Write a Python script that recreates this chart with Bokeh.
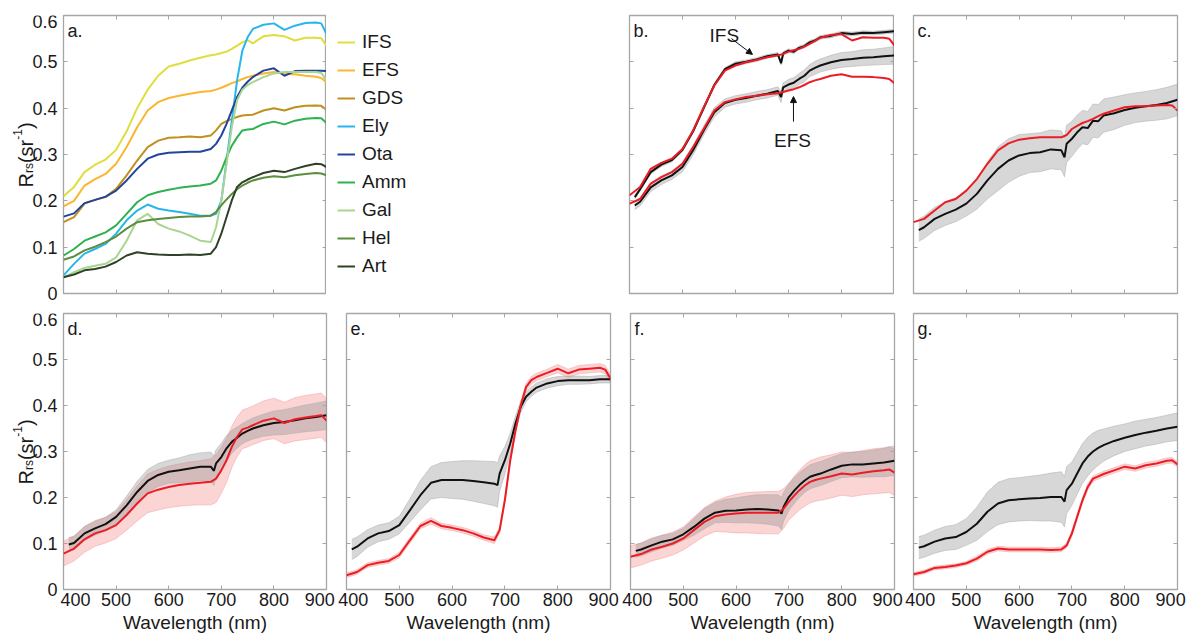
import numpy as np
from bokeh.plotting import figure
from bokeh.models import (Range1d, LinearAxis, FixedTicker, Label, Legend,
                          LegendItem, Arrow, NormalHead)
from bokeh.core.properties import value
from bokeh.layouts import column, row
from bokeh.embed import file_html
from bokeh.resources import INLINE

# ---------------- data ----------------
WL = [400, 420, 440, 460, 480, 500, 520, 540, 560, 580, 600, 620, 640, 660, 680,
      690, 700, 710, 720, 730, 740, 750, 760, 780, 800, 820, 840, 860, 880, 890, 900]
WLB = [410, 420, 440, 460, 480, 500, 520, 540, 560, 580, 600, 620, 640, 660, 680,
       686, 690, 700, 710, 720, 730, 740, 750, 760, 780, 800, 820, 840, 860, 880, 900]

A_NAMES = ["IFS", "EFS", "GDS", "Ely", "Ota", "Amm", "Gal", "Hel", "Art"]
A_COLORS = ["#dede3c", "#fbb630", "#c0901f", "#27b6ec", "#24449c", "#2db24f",
            "#a9d592", "#5b8e3e", "#2f4227"]
a_ifs = [.21, .23, .262, .278, .289, .31, .35, .40, .44, .47, .49, .496, .503, .509, .514,
         .516, .519, .522, .528, .535, .542, .547, .54, .555, .558, .555, .546, .552, .552, .551, .535]
a_efs = [.188, .20, .233, .247, .258, .28, .316, .359, .395, .413, .422, .427, .431, .435, .437,
         .44, .444, .449, .454, .458, .463, .467, .47, .475, .478, .474, .473, .47, .468, .465, .456]
a_gds = [.154, .165, .194, .202, .208, .226, .255, .287, .316, .33, .336, .337, .339, .337, .341,
         .352, .366, .372, .377, .381, .384, .385, .386, .395, .40, .395, .402, .405, .406, .405, .396]
a_ely = [.039, .064, .086, .096, .107, .129, .158, .179, .192, .183, .179, .176, .172, .168, .168,
         .172, .20, .287, .373, .46, .524, .553, .571, .58, .583, .569, .578, .584, .585, .583, .56]
a_ota = [.166, .173, .195, .202, .209, .222, .244, .269, .291, .30, .304, .305, .306, .306, .312,
         .323, .341, .366, .395, .424, .444, .457, .467, .481, .486, .47, .48, .481, .481, .481, .48]
a_amm = [.082, .096, .114, .123, .132, .147, .172, .197, .212, .219, .224, .228, .231, .233, .237,
         .244, .265, .294, .319, .337, .352, .354, .355, .366, .371, .365, .373, .377, .379, .378, .368]
a_gal = [.035, .046, .055, .06, .064, .078, .114, .158, .172, .15, .14, .134, .125, .114, .111,
         .143, .20, .28, .359, .417, .44, .45, .456, .467, .475, .478, .478, .478, .478, .476, .46]
a_hel = [.073, .08, .093, .101, .111, .123, .14, .154, .158, .161, .163, .165, .166, .166, .168,
         .176, .19, .203, .215, .225, .233, .239, .244, .25, .253, .251, .255, .258, .26, .259, .255]
a_art = [.035, .041, .05, .053, .058, .068, .082, .089, .086, .084, .083, .083, .084, .083, .086,
         .10, .129, .165, .201, .23, .24, .246, .251, .26, .265, .262, .269, .275, .28, .279, .273]

# panel b
b_ifs_red = [.212, .23, .269, .282, .291, .312, .352, .402, .449, .481, .492, .499, .504, .51, .514,
             .517, .522, .525, .528, .533, .539, .545, .552, .558, .56, .546, .553, .552, .552, .55, .535]
b_efs_red = [.194, .204, .237, .251, .262, .28, .316, .355, .395, .413, .419, .424, .427, .43, .432,
             .435, .438, .441, .445, .45, .456, .46, .463, .47, .473, .468, .468, .467, .465, .463, .454]
b_ifs_blk = [.208, .225, .262, .278, .288, .31, .35, .40, .45, .484, .496, .50, .505, .512, .516,
             .497, .518, .524, .522, .53, .534, .542, .546, .553, .556, .562, .56, .563, .562, .564, .566]
b_ifs_sd = [.004, .004, .004, .004, .004, .004, .004, .004, .004, .004, .004, .004, .004, .004, .004,
            .004, .004, .004, .004, .004, .004, .004, .004, .004, .004, .004, .004, .004, .004, .004, .004]
b_efs_blk = [.19, .198, .229, .244, .255, .273, .309, .352, .391, .411, .418, .422, .427, .431, .437,
             .424, .445, .451, .455, .463, .47, .481, .487, .492, .499, .504, .506, .509, .51, .512, .514]
b_efs_sd = [.009, .009, .009, .009, .009, .01, .01, .01, .01, .009, .009, .009, .009, .009, .009,
            .012, .01, .011, .011, .012, .013, .013, .014, .014, .015, .016, .016, .017, .017, .018, .019]

# panel c
c_red = [.154, .161, .179, .197, .204, .222, .247, .28, .309, .324, .332, .335, .337, .337, .337,
         .342, .355, .362, .368, .372, .377, .383, .388, .395, .402, .404, .404, .406, .407, .406, .395]
c_blk = [.137, .143, .161, .172, .181, .194, .215, .244, .269, .287, .298, .303, .305, .311, .309,
         .294, .323, .334, .348, .359, .357, .373, .372, .384, .389, .396, .401, .404, .407, .411, .418]
c_sd = [.024, .024, .025, .025, .026, .027, .033, .04, .047, .047, .045, .042, .042, .042, .042,
        .042, .04, .038, .037, .036, .036, .036, .036, .036, .035, .033, .032, .032, .033, .034, .034]

# panel d
d_red = [.078, .089, .109, .122, .129, .14, .162, .187, .209, .217, .223, .227, .23, .232, .234,
         .241, .259, .281, .31, .332, .348, .352, .357, .367, .372, .362, .37, .374, .377, .379, .367]
d_red_sd = [.027, .027, .028, .028, .028, .029, .033, .038, .042, .044, .045, .046, .047, .048, .05,
            .052, .05, .048, .045, .043, .042, .042, .042, .043, .044, .045, .047, .048, .048, .048, .048]
d_blk = [.098, .101, .122, .133, .142, .158, .183, .212, .236, .249, .256, .259, .263, .267, .267,
         .258, .274, .288, .307, .321, .33, .339, .345, .35, .357, .362, .364, .368, .372, .375, .379]
d_blk_sd = [.015, .015, .015, .015, .015, .015, .02, .023, .025, .025, .025, .027, .03, .03, .032,
            .032, .03, .03, .028, .025, .023, .022, .022, .023, .024, .026, .027, .028, .029, .03, .031]

# panel e
e_red = [.031, .038, .053, .058, .062, .075, .107, .138, .149, .138, .134, .129, .122, .113, .107,
         .129, .195, .28, .345, .40, .44, .455, .462, .471, .48, .47, .478, .48, .482, .478, .459]
e_red_sd = [.005, .005, .005, .005, .005, .006, .006, .006, .007, .006, .006, .006, .006, .006, .007,
            .007, .007, .007, .007, .008, .008, .008, .008, .008, .009, .009, .009, .009, .009, .009, .009]
e_blk = [.087, .093, .111, .122, .127, .14, .172, .205, .232, .238, .238, .238, .236, .233, .23,
         .227, .252, .281, .317, .361, .397, .419, .43, .439, .448, .453, .455, .455, .455, .457, .457]
e_blk_sd = [.022, .021, .019, .018, .018, .019, .025, .032, .035, .038, .04, .042, .044, .046, .048,
            .048, .038, .03, .022, .016, .013, .011, .01, .01, .01, .01, .009, .009, .008, .008, .008]

# panel f
f_red = [.071, .077, .087, .093, .10, .111, .129, .147, .159, .163, .165, .167, .167, .167, .167,
         .176, .191, .204, .216, .226, .234, .238, .241, .246, .252, .25, .254, .257, .259, .261, .254]
f_red_sd = [.024, .024, .025, .025, .025, .025, .028, .031, .033, .038, .042, .044, .045, .046, .046,
            .043, .04, .042, .043, .045, .046, .046, .047, .047, .047, .048, .048, .049, .049, .05, .05]
f_blk = [.084, .087, .096, .104, .109, .12, .136, .154, .167, .171, .172, .174, .175, .174, .172,
         .165, .18, .201, .215, .227, .237, .245, .249, .252, .261, .269, .272, .272, .274, .276, .28]
f_blk_sd = [.014, .014, .014, .014, .013, .013, .018, .022, .022, .025, .027, .029, .031, .032, .034,
            .035, .031, .029, .028, .027, .026, .026, .026, .026, .026, .026, .027, .028, .029, .031, .032]

# panel g
g_red = [.033, .038, .047, .049, .052, .057, .067, .082, .089, .087, .087, .087, .087, .086, .087,
         .096, .122, .158, .194, .223, .241, .246, .251, .259, .267, .263, .27, .274, .28, .281, .272]
g_red_sd = [.004, .004, .004, .004, .004, .004, .005, .005, .005, .005, .005, .005, .005, .005, .005,
            .005, .006, .006, .006, .006, .006, .006, .006, .006, .006, .006, .006, .006, .006, .006, .006]
g_blk = [.091, .094, .104, .111, .114, .125, .143, .169, .187, .194, .196, .198, .199, .201, .201,
         .191, .216, .23, .252, .274, .289, .30, .308, .314, .323, .33, .336, .341, .345, .35, .354]
g_blk_sd = [.024, .024, .025, .026, .027, .029, .036, .043, .046, .047, .047, .048, .05, .052, .055,
            .055, .051, .047, .045, .043, .042, .04, .038, .035, .032, .03, .03, .029, .029, .029, .03]

X_TICKS = [400, 500, 600, 700, 800, 900]
X_TICK_LABELS = ["400", "500", "600", "700", "800", "900"]
Y_TICKS = [0, 0.1, 0.2, 0.3, 0.4, 0.5, 0.6]
Y_TICK_LABELS = ["0", "0.1", "0.2", "0.3", "0.4", "0.5", "0.6"]
# label anchor positions (edge labels nudged inward, as in the original figure)
X_LABEL_POS = [413, 500, 600, 700, 800, 887]
Y_LABEL_POS = [0, 0.1, 0.2, 0.3, 0.4, 0.5, 0.587]

# ---------------- style ----------------
FONT = "Liberation Sans"
TXT = "#1a1a1a"
FRAME = "#a6a6a6"
RED = "#ec1c24"
BLK = "#111111"
GRAY_FILL, GRAY_A, GRAY_EDGE = "#8c8c8c", 0.35, "#a8a8a8"
PINK_FILL, PINK_A, PINK_EDGE = "#ee3a3a", 0.22, "#f29a9a"


def tick_axis(ticks):
    ax = LinearAxis(ticker=FixedTicker(ticks=ticks))
    ax.axis_line_color = None
    ax.major_tick_in = 4
    ax.major_tick_out = 0
    ax.major_tick_line_color = FRAME
    ax.minor_tick_line_color = None
    ax.major_label_text_color = None
    ax.major_label_text_font_size = "1px"
    ax.major_label_standoff = 0
    return ax


def label_axis(pos, labels, standoff):
    ax = LinearAxis(ticker=FixedTicker(ticks=pos))
    ax.major_label_overrides = {p_: s for p_, s in zip(pos, labels)}
    ax.axis_line_color = None
    ax.major_tick_line_color = None
    ax.minor_tick_line_color = None
    ax.major_tick_in = 0
    ax.major_tick_out = 0
    ax.major_label_standoff = standoff
    ax.major_label_text_font = FONT
    ax.major_label_text_font_size = "18px"
    ax.major_label_text_color = TXT
    return ax


def make_fig(w, h, bl, br, bt, bb, xlab=False):
    p = figure(width=w, height=h, x_range=Range1d(400, 900), y_range=Range1d(0, 0.6),
               output_backend="svg", toolbar_location=None,
               x_axis_location=None, y_axis_location=None,
               min_border_left=bl, min_border_right=br,
               min_border_top=bt, min_border_bottom=bb)
    p.grid.visible = False
    p.outline_line_color = FRAME
    p.outline_line_width = 1.3
    p.background_fill_color = "white"
    p.border_fill_color = "white"
    p.add_layout(tick_axis(X_TICKS), "below")
    p.add_layout(tick_axis(X_TICKS), "above")
    p.add_layout(tick_axis(Y_TICKS), "left")
    p.add_layout(tick_axis(Y_TICKS), "right")
    if xlab:
        ax = label_axis(X_LABEL_POS, X_TICK_LABELS, 3)
        ax.axis_label = "Wavelength (nm)"
        ax.axis_label_text_font = FONT
        ax.axis_label_text_font_size = "19px"
        ax.axis_label_text_font_style = "normal"
        ax.axis_label_text_color = TXT
        ax.axis_label_standoff = 3
        p.add_layout(ax, "below")
    return p


def lab(p, x, y, text, size=19, align="center", baseline="middle", xo=0, yo=0):
    p.add_layout(Label(x=x, y=y, text=text, text_font=FONT, text_font_size=f"{size}px",
                       text_color=TXT, text_align=align, text_baseline=baseline,
                       x_offset=xo, y_offset=yo))


def tag(p, s):
    lab(p, 400, 0.6, s, size=18, align="left", baseline="alphabetic", xo=4, yo=-15)


def band(p, x, mean, sd, fill, alpha, edge):
    m = np.array(mean)
    s = np.array(sd)
    p.varea(x=x, y1=m - s, y2=m + s, fill_color=fill, fill_alpha=alpha)
    p.line(x, m + s, line_color=edge, line_width=0.8, line_alpha=0.6)
    p.line(x, m - s, line_color=edge, line_width=0.8, line_alpha=0.6)


# left strip: y tick labels + rotated title R_rs(sr^-1), on the same y scale as the panel
STRIP_W = 60
YT_TEXT = ["R", "rs", "(sr", "-1", ")"]
YT_SIZE = [20, 12, 20, 12, 20]
YT_X = [25, 28, 25, 16.5, 25]           # baseline position, px from page left
YT_DY = [-33, -18.6, -8.6, 14.7, 25.4]  # start of each piece, px above the 0.3 level
TICK_X = 57                              # right edge of the y tick labels


def ystrip(h, bt, bb):
    fh = h - bt - bb                 # height of the neighbouring panel's frame
    per_px = 0.6 / fh
    # the strip's frame reaches down to the canvas bottom so that the "0" label is not cut
    p = figure(width=STRIP_W, height=h, x_range=Range1d(0, STRIP_W),
               y_range=Range1d(-bb * per_px, 0.6),
               output_backend="svg", toolbar_location=None,
               x_axis_location=None, y_axis_location=None,
               min_border_left=0, min_border_right=0, min_border_top=bt, min_border_bottom=0)
    p.grid.visible = False
    p.outline_line_color = None
    p.background_fill_color = "white"
    p.border_fill_color = "white"
    p.text(x=[TICK_X] * len(Y_LABEL_POS), y=Y_LABEL_POS, text=Y_TICK_LABELS,
           text_font=value(FONT), text_font_size="18px", text_color=TXT,
           text_align="right", text_baseline="middle")
    for t, s, x, dy in zip(YT_TEXT, YT_SIZE, YT_X, YT_DY):
        p.text(x=[x], y=[0.3 + dy * per_px], text=[t], angle=np.pi / 2,
               text_font=value(FONT), text_font_size=f"{s}px", text_color=TXT,
               text_align="left", text_baseline="alphabetic")
    return p


# ---------------- top row ----------------
TOP_H, TOP_T, TOP_B = 303, 15, 10
sa = ystrip(TOP_H, TOP_T, TOP_B)
fa = make_fig(266, TOP_H, 3, 0, TOP_T, TOP_B)
a_vals = [a_ifs, a_efs, a_gds, a_ely, a_ota, a_amm, a_gal, a_hel, a_art]
for col, vals in zip(A_COLORS, a_vals):
    fa.line(WL, vals, line_color=col, line_width=2)
tag(fa, "a.")

# legend panel to the right of panel a (the series are drawn here outside the
# visible range only so that the legend can show their line keys)
fl = figure(width=284, height=TOP_H, x_range=Range1d(0, 1), y_range=Range1d(0, 1),
            output_backend="svg", toolbar_location=None,
            x_axis_location=None, y_axis_location=None,
            min_border_left=0, min_border_right=0, min_border_top=TOP_T, min_border_bottom=TOP_B)
fl.grid.visible = False
fl.outline_line_color = None
items = []
for name, col, vals in zip(A_NAMES, A_COLORS, a_vals):
    r = fl.line(WL, vals, line_color=col, line_width=2)
    items.append(LegendItem(label=name, renderers=[r]))
leg = Legend(items=items, location=(11, 13), padding=0, margin=0, spacing=0,
             glyph_width=18, glyph_height=28, label_height=28, label_standoff=7,
             label_text_font=FONT, label_text_font_size="19px", label_text_color=TXT,
             border_line_color=None, background_fill_alpha=0)
fl.add_layout(leg, "center")

fb = make_fig(284, TOP_H, 19, 0, TOP_T, TOP_B)
band(fb, WLB, b_ifs_blk, b_ifs_sd, GRAY_FILL, GRAY_A, GRAY_EDGE)
band(fb, WLB, b_efs_blk, b_efs_sd, GRAY_FILL, GRAY_A, GRAY_EDGE)
fb.line(WLB, b_ifs_blk, line_color=BLK, line_width=2)
fb.line(WLB, b_efs_blk, line_color=BLK, line_width=2)
fb.line(WL, b_ifs_red, line_color=RED, line_width=2)
fb.line(WL, b_efs_red, line_color=RED, line_width=2)
lab(fb, 579, 0.557, "IFS", size=19, align="center", baseline="alphabetic")
lab(fb, 707.5, 0.330, "EFS", size=19, align="center", baseline="alphabetic")
fb.add_layout(Arrow(end=NormalHead(size=6, fill_color=BLK, line_color=BLK, line_width=1),
                    x_start=592.5, y_start=0.550, x_end=632, y_end=0.516,
                    line_color=BLK, line_width=1))
fb.add_layout(Arrow(end=NormalHead(size=6, fill_color=BLK, line_color=BLK, line_width=1),
                    x_start=709.4, y_start=0.371, x_end=709.4, y_end=0.425,
                    line_color=BLK, line_width=1))
tag(fb, "b.")

fc = make_fig(293, TOP_H, 19, 10, TOP_T, TOP_B)
band(fc, WLB, c_blk, c_sd, GRAY_FILL, GRAY_A, GRAY_EDGE)
fc.line(WLB, c_blk, line_color=BLK, line_width=2)
fc.line(WL, c_red, line_color=RED, line_width=2)
tag(fc, "c.")

# ---------------- bottom row ----------------
BOT_H, BOT_T, BOT_B = 332, 10, 46
sd_ = ystrip(BOT_H, BOT_T, BOT_B)
panels = [("d.", 276, 3, 10, d_red, d_red_sd, d_blk, d_blk_sd),
          ("e.", 284, 10, 10, e_red, e_red_sd, e_blk, e_blk_sd),
          ("f.", 284, 10, 10, f_red, f_red_sd, f_blk, f_blk_sd),
          ("g.", 283, 9, 10, g_red, g_red_sd, g_blk, g_blk_sd)]
bottom = []
for tg, w, bl, br, red, red_sd, blk, blk_sd in panels:
    p = make_fig(w, BOT_H, bl, br, BOT_T, BOT_B, xlab=True)
    band(p, WL, red, red_sd, PINK_FILL, PINK_A, PINK_EDGE)
    band(p, WLB, blk, blk_sd, GRAY_FILL, GRAY_A, GRAY_EDGE)
    p.line(WLB, blk, line_color=BLK, line_width=2)
    p.line(WL, red, line_color=RED, line_width=2)
    tag(p, tg)
    bottom.append(p)

# strips sit in their own column so that their frames are not aligned with the panels'
layout = row(column(sa, sd_), column(row(fa, fl, fb, fc), row(*bottom)))
open("out.html", "w").write(file_html(layout, INLINE))
